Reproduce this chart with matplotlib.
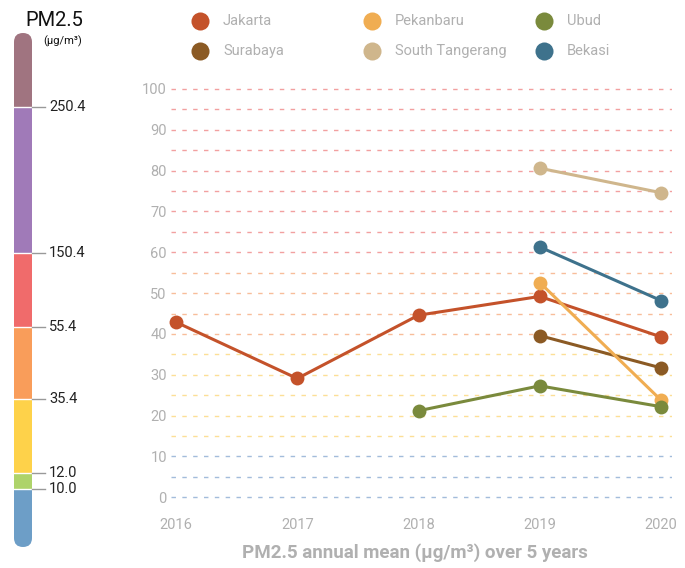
import matplotlib.pyplot as plt
import numpy as np
from matplotlib.patches import Rectangle, FancyBboxPatch

plt.rcParams['font.family'] = ['Roboto', 'DejaVu Sans']

# data
years = [2016, 2017, 2018, 2019, 2020]
cities = ['Jakarta', 'Surabaya', 'Pekanbaru', 'South Tangerang', 'Ubud', 'Bekasi']
jakarta = [42.9, 29.1, 44.6, 49.2, 39.3]
surabaya = [None, None, None, 39.6, 31.7]
pekanbaru = [None, None, None, 52.6, 23.8]
south_tangerang = [None, None, None, 80.6, 74.6]
ubud = [None, None, 21.2, 27.3, 22.2]
bekasi = [None, None, None, 61.3, 48.2]
series = [jakarta, surabaya, pekanbaru, south_tangerang, ubud, bekasi]

# PM2.5 scale breakpoints (AQI bands)
breakpoints = ['250.4', '150.4', '55.4', '35.4', '12.0', '10.0']
grid_levels = np.arange(0, 101, 5)

# styles
city_colors = ['#c4522a', '#8b5a24', '#f0ad52', '#cfb68c', '#7a8a3c', '#3e728c']
band_colors = ['#a07480', '#a07ab8', '#f06b6b', '#f99d5a', '#fed24a', '#aed36a', '#6d9ec7']
band_edges_px = [33, 106.7, 252.7, 326.7, 399.3, 472.7, 489.3, 547]


def grid_color(v):
    if v <= 10:
        return '#a3bcdb'
    if v <= 35:
        return '#fcdf96'
    if v <= 55:
        return '#f8bd9a'
    return '#f2a0a0'


fig = plt.figure(figsize=(6.85, 5.68), dpi=100)
W, H = 685, 568

# overlay in pixel coordinates for colour bar + legend
ov = fig.add_axes([0, 0, 1, 1])
ov.set_xlim(0, W)
ov.set_ylim(H, 0)
ov.axis('off')

bx, bw = 14, 18
clip = FancyBboxPatch((bx, band_edges_px[0]), bw, band_edges_px[-1] - band_edges_px[0],
                      boxstyle='round,pad=0,rounding_size=9', fc='none', ec='none')
ov.add_patch(clip)
for i, c in enumerate(band_colors):
    r = Rectangle((bx, band_edges_px[i]), bw, band_edges_px[i + 1] - band_edges_px[i],
                  fc=c, ec='none')
    ov.add_patch(r)
    r.set_clip_path(clip)
for lab, yp in zip(breakpoints, band_edges_px[1:-1]):
    ov.plot([bx, bx + bw], [yp, yp], color='white', lw=1)
    ov.plot([bx + bw, 45], [yp, yp], color='#999999', lw=1)
    ov.text(49, yp, lab, fontsize=10.5, color='#222222', va='center', ha='left')
ov.text(54, 21, 'PM2.5', fontsize=14.5, color='#111111', ha='center', va='center')
ov.text(63, 41, '(μg/m³)', fontsize=8, color='#111111', ha='center', va='center')

# legend
leg_x = [200, 372, 544]
leg_y = [21, 51]
for i, name in enumerate(cities):
    col, row = i // 2, i % 2
    ov.plot(leg_x[col], leg_y[row], 'o', ms=13, color=city_colors[i], mec='none')
    ov.text(leg_x[col] + 23, leg_y[row], name, fontsize=10.5, color='#b0b0b0',
            ha='left', va='center')

# main chart
ax = fig.add_axes([171 / W, (H - 505.5) / H, 501 / W, 424.7 / H])
ax.set_xlim(2016 - 5 / 121.25, 2020 + 11 / 121.25)
ax.set_ylim(-2, 102)
for v in grid_levels:
    ax.axhline(v, color=grid_color(v), lw=1, dashes=(3.2, 4.6), zorder=1)

for vals, c in zip(series, city_colors):
    xs = [x for x, v in zip(years, vals) if v is not None]
    ys = [v for v in vals if v is not None]
    ax.plot(xs, ys, '-o', color=c, lw=2.2, ms=10, mec='none', zorder=3, clip_on=False)

for s in ax.spines.values():
    s.set_visible(False)
ax.set_yticks(np.arange(0, 101, 10))
ax.set_xticks(years)
ax.tick_params(length=0, labelsize=10.5, labelcolor='#b0b0b0')
ax.tick_params(axis='y', pad=3)
ax.tick_params(axis='x', pad=9)

fig.text(415 / W, 1 - 553 / H, 'PM2.5 annual mean (μg/m³) over 5 years', fontsize=13.5,
         fontweight='bold', color='#b0b0b0', ha='center', va='center')

fig.savefig('out.png', dpi=100)
